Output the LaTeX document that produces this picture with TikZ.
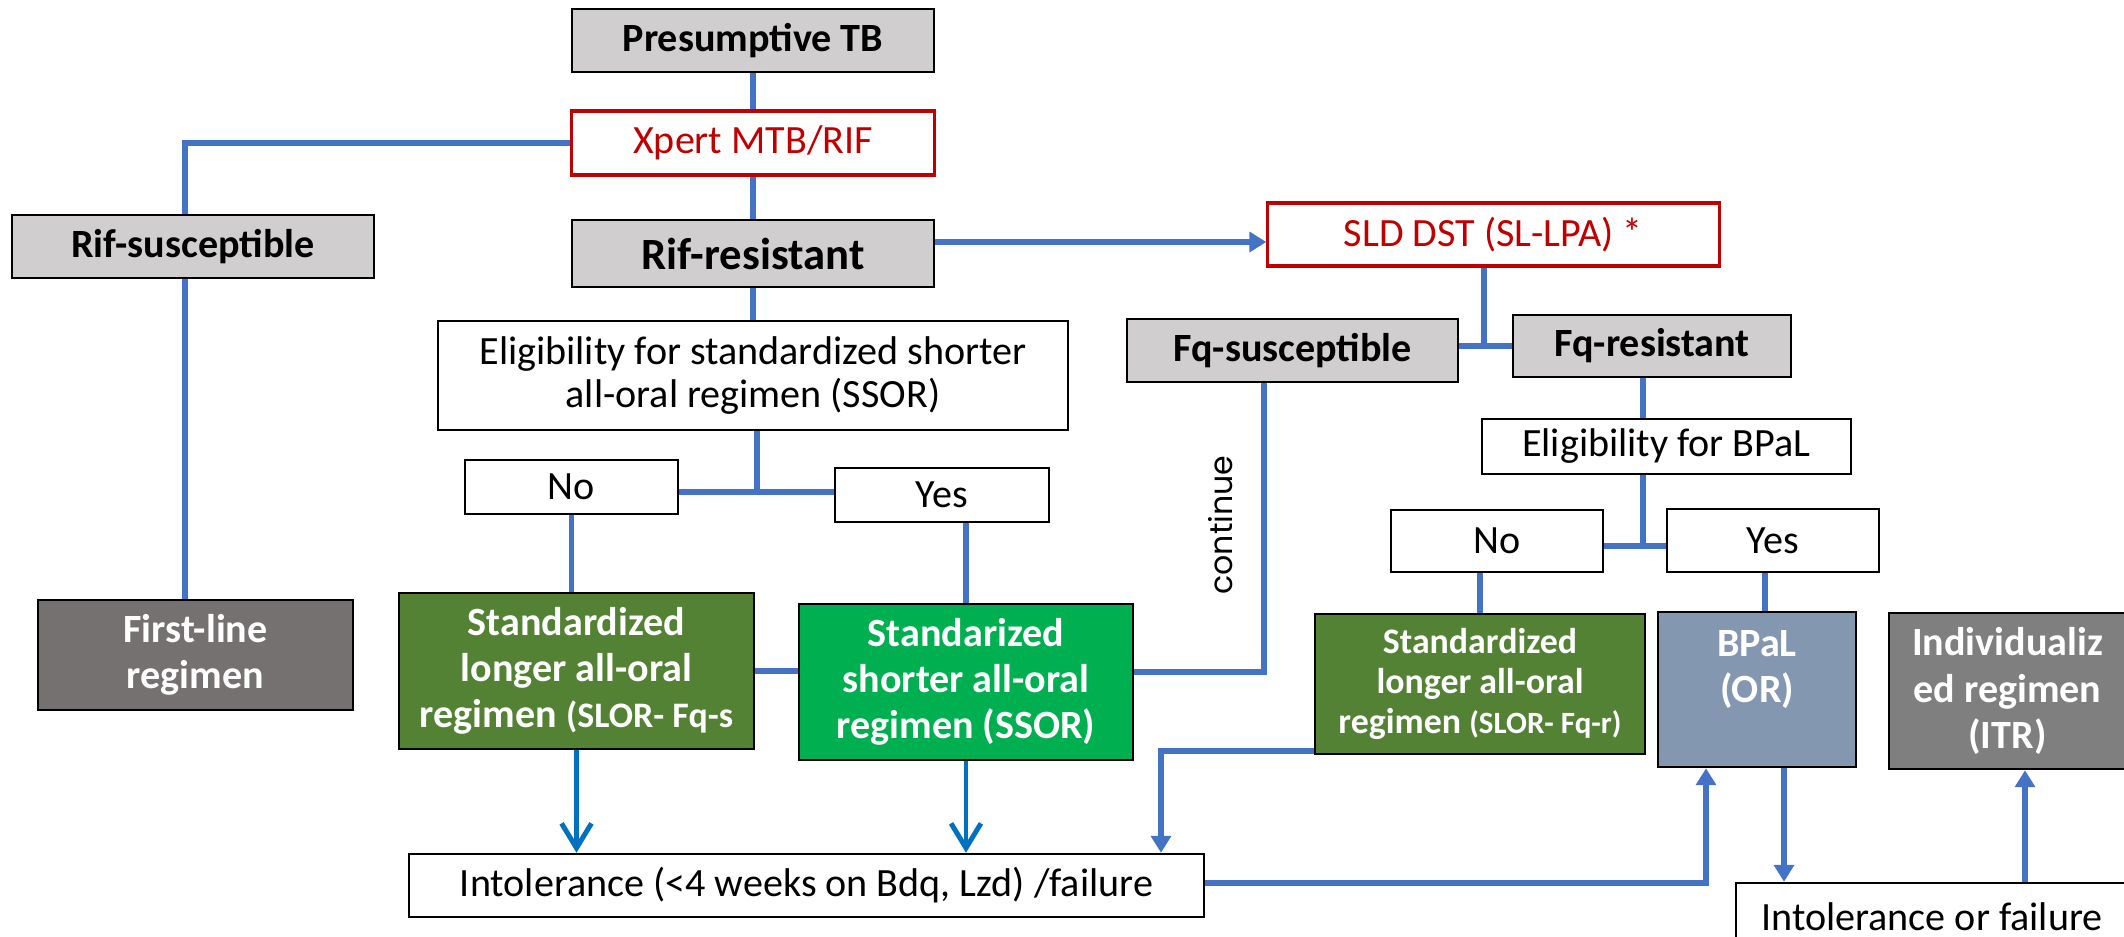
\documentclass[tikz,border=0pt]{standalone}
\usepackage{fontspec}
\setmainfont{Carlito}
\newfontfamily\contfont{Poppins}
\usetikzlibrary{arrows.meta,calc}
\definecolor{boxgray}{HTML}{D0CECE}
\definecolor{testred}{HTML}{C00000}
\definecolor{lineblue}{HTML}{4472C4}
\definecolor{arrowblue}{HTML}{0070C0}
\definecolor{olive}{HTML}{548235}
\definecolor{brightgreen}{HTML}{00B050}
\definecolor{bpalblue}{HTML}{8497B0}
\definecolor{itrgray}{HTML}{7F7F7F}
\definecolor{firstgray}{HTML}{767171}

\begin{document}
\begin{tikzpicture}[
  x=0.01cm,y=-0.01cm,
  font=\fontsize{11.4}{13}\selectfont,
  box/.style={rectangle,draw=black,line width=0.7pt,inner sep=0pt,align=center},
  graybox/.style={box,fill=boxgray,font=\fontsize{11.4}{13}\selectfont\bfseries},
  testbox/.style={box,fill=white,draw=testred,line width=0.9pt,text=testred},
  choice/.style={box,fill=white},
  regimen/.style={box,text=white,font=\fontsize{11.4}{13.1}\selectfont\bfseries},
  link/.style={draw=lineblue,line width=1.65pt},
  flow/.style={link,-{Triangle[width=5.6pt,length=4.8pt]}},
  drop/.style={draw=arrowblue,line width=1.4pt,-{Straight Barb[length=7pt,width=8.5pt]}}
]
\useasboundingbox (0,0) rectangle (2124,936);
\fill[white] (0,0) rectangle (2124,936);
\clip (0,0) rectangle (2124,936);
% Tests and results
\node[graybox,minimum width=3.62cm,minimum height=0.63cm] (ptb) at (753,40.5) {Presumptive TB};
\node[testbox,minimum width=3.63cm,minimum height=0.64cm] (xpert) at (753,143) {Xpert MTB/RIF};
\node[graybox,minimum width=3.62cm,minimum height=0.63cm] (rifs) at (193,246.5) {Rif-susceptible};
\node[graybox,minimum width=3.62cm,minimum height=0.67cm,font=\fontsize{12.7}{15}\selectfont\bfseries] (rifr) at (753,253.5) {Rif-resistant};
\node[testbox,minimum width=4.51cm,minimum height=0.63cm] (sld) at (1493.5,234.5) {SLD DST (SL-LPA) *};
\node[choice,minimum width=6.30cm,minimum height=1.09cm,font=\fontsize{11.4}{12.5}\selectfont] (elig) at (753,375.5)
  {Eligibility for standardized shorter\\all-oral regimen (SSOR)};
\node[graybox,minimum width=3.31cm,minimum height=0.63cm] (fqs) at (1292.5,350.5) {Fq-susceptible};
\node[graybox,minimum width=2.78cm,minimum height=0.62cm] (fqr) at (1652,346) {Fq-resistant};
\node[choice,minimum width=3.69cm,minimum height=0.55cm] (eligb) at (1666.5,446.5) {Eligibility for BPaL};
% Yes / No
\node[choice,minimum width=2.13cm,minimum height=0.54cm] (no1) at (571.5,487) {No};
\node[choice,minimum width=2.14cm,minimum height=0.54cm] (yes1) at (942,495) {Yes};
\node[choice,minimum width=2.12cm,minimum height=0.62cm] (no2) at (1497,541) {No};
\node[choice,minimum width=2.12cm,minimum height=0.63cm] (yes2) at (1773,540.5) {Yes};
% Regimens
\node[regimen,fill=firstgray,minimum width=3.15cm,minimum height=1.10cm] (first) at (195.5,655) {First-line\\regimen};
\node[regimen,fill=olive,minimum width=3.55cm,minimum height=1.56cm] (slors) at (576.5,671)
  {Standardized\\longer all-oral\\regimen {\fontsize{10.2}{12}\selectfont(SLOR- Fq-s}};
\node[regimen,fill=brightgreen,minimum width=3.34cm,minimum height=1.56cm] (ssor) at (966,682)
  {Standarized\\shorter all-oral\\regimen (SSOR)};
\node[regimen,fill=olive,minimum width=3.30cm,minimum height=1.40cm,font=\fontsize{10.2}{11.4}\selectfont\bfseries] (slorr) at (1480,684)
  {Standardized\\longer all-oral\\regimen {\fontsize{8.8}{10}\selectfont(SLOR- Fq-r)}};
\node[regimen,fill=bpalblue,minimum width=1.98cm,minimum height=1.55cm] (bpal) at (1757,689.5) {BPaL\\(OR)\\\mbox{}};
\node[regimen,fill=itrgray,minimum width=2.37cm,minimum height=1.56cm] (itr) at (2007.5,691) {Individualiz\\ed regimen\\(ITR)};
% Outcomes
\node[choice,minimum width=7.95cm,minimum height=0.63cm] (intol) at (806.5,885.5) {Intolerance (<4 weeks on Bdq, Lzd) /failure};
\node[choice,minimum width=3.92cm,minimum height=0.68cm] (intolf) at (1932,917) {Intolerance or failure};
% Connectors
\draw[link] (ptb) -- (xpert);
\draw[link] (xpert.west) -| ([xshift=-0.08cm]rifs.north);
\draw[link] ([xshift=-0.08cm]rifs.south) -- ([xshift=-0.08cm]rifs.south |- first.north);
\draw[link] (xpert) -- (rifr);
\coordinate (rr) at (0,242);
\draw[flow] (rifr.east |- rr) -- (sld.west |- rr);
\draw[link] (rifr) -- (elig);
\coordinate (j1) at (757,492);
\draw[link] (elig.south -| j1) -- (j1);
\draw[link] (no1.east |- j1) -- (yes1.west |- j1);
\draw[link] (no1.south) -- (no1.south |- slors.north);
\draw[link] (ssor.north |- yes1.south) -- (ssor.north);
\draw[link] (slors.east) -- (slors.east -| ssor.west);
\coordinate (c1) at (1264,672);
\draw[link] (fqs.south -| c1) -- (c1) -- (c1 -| ssor.east);
\node[rotate=90,font=\contfont\fontsize{9}{10}\selectfont] (cont) at (1221,525) {continue};
\coordinate (j2) at (1484,346);
\draw[link] (sld.south -| j2) -- (j2);
\draw[link] (fqs.east |- j2) -- (fqr.west |- j2);
\coordinate (j3) at (1643,546);
\draw[link] (fqr.south -| j3) -- (eligb.north -| j3);
\draw[link] (eligb.south -| j3) -- (j3);
\draw[link] (no2.east |- j3) -- (yes2.west |- j3);
\draw[link] (slorr.north |- no2.south) -- (slorr.north);
\coordinate (c2) at (1765,0);
\draw[link] (yes2.south -| c2) -- (bpal.north -| c2);
\draw[drop] (slors.south) -- (slors.south |- intol.north);
\draw[drop] (ssor.south) -- (ssor.south |- intol.north);
\coordinate (c3) at (1161,751);
\draw[flow] (slorr.west |- c3) -- (c3) -- (c3 |- intol.north);
\coordinate (c4) at (1706,883);
\draw[flow] (intol.east |- c4) -- (c4) -- (c4 |- bpal.south);
\coordinate (c5) at (1784,0);
\draw[flow] (bpal.south -| c5) -- (intolf.north -| c5);
\coordinate (c6) at (2025,0);
\draw[flow] (intolf.north -| c6) -- (itr.south -| c6);
\end{tikzpicture}
\end{document}
